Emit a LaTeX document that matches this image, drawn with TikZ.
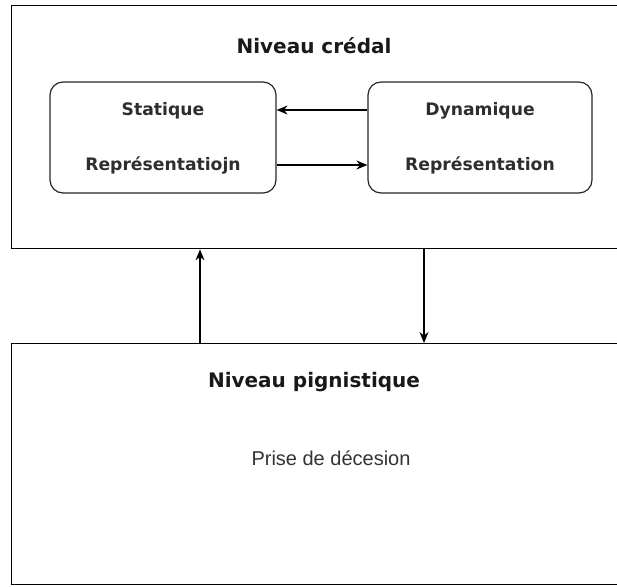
\documentclass[tikz,border=0pt]{standalone}
\usepackage{fontspec}
\setmainfont{Liberation Sans}
\newfontfamily\boldface{DejaVu Sans}
\usetikzlibrary{arrows.meta}
\begin{document}
\begin{tikzpicture}[x=1pt,y=-1pt,
  level/.style={draw=black,line width=1.4pt,rectangle,inner sep=0pt,anchor=north west},
  stage/.style={draw=black!85,line width=1.2pt,rounded corners=13pt,inner sep=0pt},
  title/.style={font=\boldface\bfseries\fontsize{20}{23}\selectfont,text=black!90},
  label/.style={font=\boldface\bfseries\fontsize{17.2}{20}\selectfont,text=black!82},
  plain/.style={font=\fontsize{20}{24}\selectfont,text=black!80},
  flow/.style={draw=black,line width=1.2pt,-{Stealth[length=11pt,width=9pt]}}
]
\useasboundingbox (0,0) rectangle (617,586);
% the two levels (they run past the right edge)
\node[level,minimum width=620pt,minimum height=243pt] (credal) at (11,5) {};
\node[level,minimum width=620pt,minimum height=241pt] (pign) at (11,343) {};
% credal level content
\node[title] (tcred) at (314,46) {Niveau crédal};
\node[stage,minimum width=226pt,minimum height=111pt] (stat) at (163,137.5) {};
\node[stage,minimum width=224pt,minimum height=111pt] (dyn) at (480,137.5) {};
\node[label] (s1) at (163,111) {Statique};
\node[label] (s2) at (163,165) {Représentatiojn};
\node[label] (d1) at (480,111) {Dynamique};
\node[label] (d2) at (480,165) {Représentation};
\draw[flow] (dyn.west |- 0,110) -- (stat.east |- 0,110);
\draw[flow] (stat.east |- 0,165) -- (dyn.west |- 0,165);
% pignistic level content
\node[title] (tpign) at (314,382) {Niveau pignistique};
\node[plain] (dec) at (331,458) {Prise de décesion};
% exchanges between the levels
\draw[flow] (pign.north west -| 200,0) -- (credal.south west -| 200,0);
\draw[flow] (credal.south west -| 424,0) -- (pign.north west -| 424,0);
\end{tikzpicture}
\end{document}
